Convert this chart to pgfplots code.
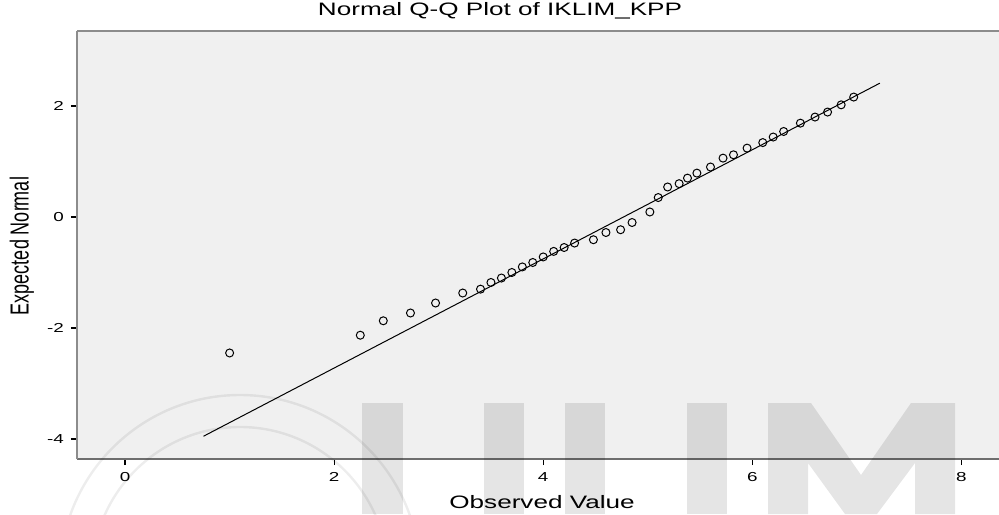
\documentclass[border=0pt]{standalone}
\usepackage{pgfplots}
\pgfplotsset{compat=1.18}
\usepackage{fontspec}
\setmainfont{Liberation Sans}
\usepackage{graphicx}
\newcommand\sx[1]{\scalebox{1.45}[1]{#1}}
\definecolor{bgc}{HTML}{F0F0F0}
\definecolor{axc}{HTML}{8C8C8C}
\definecolor{axd}{HTML}{6E6E6E}
\begin{document}
\begin{tikzpicture}
\useasboundingbox (-38.5pt,-27.5pt) rectangle (461pt,229.5pt);
\begin{axis}[
  at={(0pt,0pt)}, anchor=south west,
  scale only axis, width=461pt, height=214pt,
  xmin=-0.46, xmax=8.36, ymin=-4.36, ymax=3.35,
  axis background/.style={fill=bgc},
  axis x line*=bottom, axis y line*=left,
  x axis line style={draw=axd, line width=1pt, -},
  y axis line style={draw=axc, line width=1pt, -},
  xtick={0,2,4,6,8}, xticklabels={\sx{0},\sx{2},\sx{4},\sx{6},\sx{8}},
  ytick={-4,-2,0,2}, yticklabels={\sx{-4},\sx{-2},\sx{0},\sx{2}},
  tick align=outside, major tick length=3pt,
  tick style={black, line width=0.6pt},
  ticklabel style={font=\fontsize{6.5}{7}\selectfont},
  clip=false,
]
\draw[axc, line width=1pt] (rel axis cs:0,1) -- (rel axis cs:1,1);
\addplot[black, line width=0.5pt] coordinates {(0.75,-3.95) (7.22,2.41)};
\addplot[only marks, mark=o, mark size=2pt, mark options={line width=0.5pt, black}] coordinates {
(1.00,-2.45)
(2.25,-2.13)
(2.47,-1.87)
(2.73,-1.73)
(2.97,-1.55)
(3.23,-1.37)
(3.40,-1.30)
(3.50,-1.18)
(3.60,-1.10)
(3.70,-1.00)
(3.80,-0.90)
(3.90,-0.82)
(4.00,-0.72)
(4.10,-0.62)
(4.20,-0.55)
(4.30,-0.47)
(4.48,-0.41)
(4.60,-0.28)
(4.74,-0.23)
(4.85,-0.10)
(5.02,0.09)
(5.10,0.35)
(5.19,0.54)
(5.30,0.60)
(5.38,0.70)
(5.47,0.79)
(5.60,0.90)
(5.72,1.06)
(5.82,1.12)
(5.95,1.24)
(6.10,1.34)
(6.20,1.44)
(6.30,1.54)
(6.46,1.69)
(6.60,1.80)
(6.72,1.89)
(6.85,2.02)
(6.97,2.16)
};
\end{axis}
% watermark
\begin{scope}
\clip (-38.5pt,-27.5pt) rectangle (461pt,229.5pt);
\draw[black, draw opacity=0.07, line width=1.2pt] (81.5pt,-58pt) circle (90pt);
\draw[black, draw opacity=0.07, line width=1.2pt] (81.5pt,-58pt) circle (74pt);
\fill[black, fill opacity=0.1] (142.5pt,-27.5pt) rectangle (163pt,28pt);
\fill[black, fill opacity=0.1] (203.5pt,-27.5pt) rectangle (223.5pt,28pt);
\fill[black, fill opacity=0.1] (244pt,-27.5pt) rectangle (264pt,28pt);
\fill[black, fill opacity=0.1] (305pt,-27.5pt) rectangle (325pt,28pt);
\fill[black, fill opacity=0.1] (345.5pt,-27.5pt) -- (345.5pt,28pt) -- (367pt,28pt) -- (392pt,-8pt) -- (417pt,28pt) -- (439pt,28pt) -- (439pt,-27.5pt) -- (419pt,-27.5pt) -- (419pt,-2pt) -- (400pt,-27.5pt) -- (384pt,-27.5pt) -- (365.5pt,-2pt) -- (365.5pt,-27.5pt) -- cycle;
\end{scope}
\node at (211.5pt,224pt) {\fontsize{9}{10}\selectfont\sx{Normal Q-Q Plot of IKLIM\_KPP}};
\node at (232.5pt,-21.5pt) {\fontsize{9}{10}\selectfont\sx{Observed Value}};
\node[rotate=90] at (-27.5pt,106.5pt) {\fontsize{9}{10}\selectfont\scalebox{1}[1.45]{Expected Normal}};
\end{tikzpicture}
\end{document}
